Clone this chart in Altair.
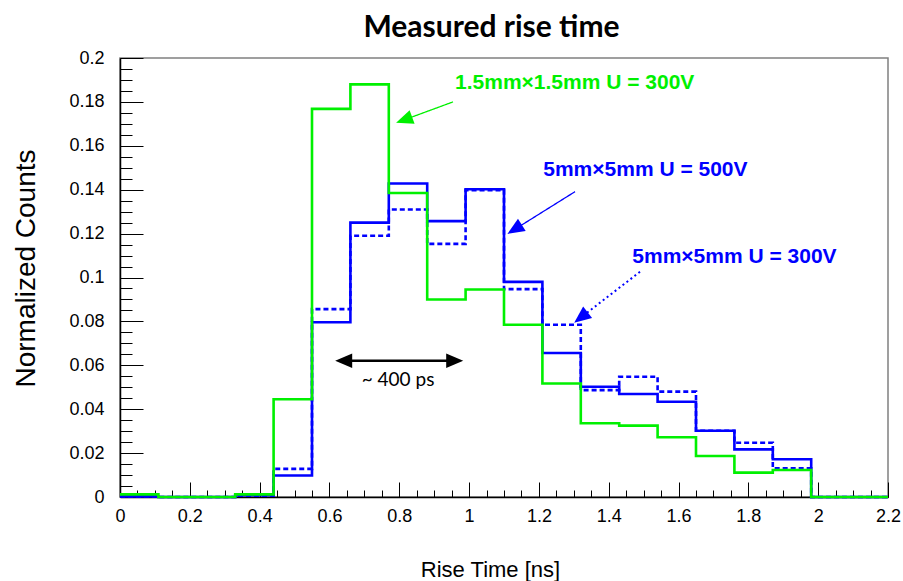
import altair as alt
import pandas as pd

# ---------------- data ----------------
bin_lo = [0.0, 0.11, 0.22, 0.33, 0.44, 0.55, 0.66, 0.77, 0.88, 0.99,
          1.10, 1.21, 1.32, 1.43, 1.54, 1.65, 1.76, 1.87, 1.98, 2.09]
x_hi = 2.2

green_15mm_300V = [0.0012, 0.0, 0.0, 0.0012, 0.0445, 0.1768, 0.1880, 0.1385, 0.0900, 0.0945,
                   0.0785, 0.0517, 0.0336, 0.0325, 0.0272, 0.0187, 0.0111, 0.0123, 0.0, 0.0]
blue_5mm_500V = [0.0003, 0.0, 0.0, 0.0008, 0.0098, 0.0796, 0.1250, 0.1428, 0.1257, 0.1402,
                 0.0980, 0.0656, 0.0502, 0.0469, 0.0434, 0.0302, 0.0217, 0.0172, 0.0, 0.0]
blue_5mm_300V = [0.0003, 0.0, 0.0, 0.0006, 0.0128, 0.0856, 0.1190, 0.1310, 0.1153, 0.1398,
                 0.0947, 0.0785, 0.0487, 0.0548, 0.0480, 0.0302, 0.0247, 0.0131, 0.0, 0.0]

x_major = [0, 0.2, 0.4, 0.6, 0.8, 1.0, 1.2, 1.4, 1.6, 1.8, 2.0, 2.2]
x_minor = [round(i * 0.05, 2) for i in range(45)]
y_major = [0, 0.02, 0.04, 0.06, 0.08, 0.1, 0.12, 0.14, 0.16, 0.18, 0.2]
y_minor = [round(i * 0.005, 3) for i in range(41)]

chart_title = "Measured rise time"
label_texts = ["1.5mm\u00d71.5mm U = 300V", "5mm\u00d75mm U = 500V", "5mm\u00d75mm U = 300V"]
label_x = [0.9597, 1.2124, 1.4676]
label_y = [0.1886, 0.1490, 0.1093]

# arrows: start (x, y) -> head centre (x, y), head direction angle
arrow_x0 = [0.9539, 1.3034, 1.4896]
arrow_y0 = [0.1800, 0.1391, 0.1026]
arrow_x1 = [0.8138, 1.1304, 1.3203]
arrow_y1 = [0.1718, 0.1219, 0.0818]
arrow_angle = [250, 238, 232]

span_x = [0.6408, 0.9588]
span_y = 0.0621
span_text = "~ 400 ps"
span_text_x = 0.7964
span_text_y = 0.0533

# ---------------- styling ----------------
W, H = 768, 439
GREEN = "#00f000"
BLUE = "#0000ff"
xs = alt.Scale(domain=[0, 2.2], nice=False, zero=False)
ys = alt.Scale(domain=[0, 0.2], nice=False, zero=False)
HEAD = "M0,-1L0.85,1L-0.85,1Z"


def step_df(vals):
    return pd.DataFrame({"x": bin_lo + [x_hi], "y": vals + [vals[-1]]})


def tick_axis(orient, values, size):
    # inward-pointing ticks (negative length through an expression)
    return alt.Axis(orient=orient, values=values, labels=False,
                    domain=False, grid=False, tickSize={"expr": str(-size)},
                    tickColor="black", tickWidth=1, title=None)


# main axes layer (dotted histogram)
dotted = alt.Chart(step_df(blue_5mm_300V)).mark_line(
    interpolate="step-after", color=BLUE, strokeWidth=2.6, strokeDash=[5, 3]
).encode(
    x=alt.X("x:Q", scale=xs, axis=alt.Axis(
        orient="bottom", values=x_major, format="~g", labelFlush=False,
        labelOverlap=False, ticks=False, domainColor="black", domainWidth=1.5,
        labelFont="Liberation Sans", labelFontSize=18, labelColor="black",
        labelPadding=10, grid=False,
        title="Rise Time [ns]", titleFont="Liberation Sans", titleFontSize=22,
        titleFontWeight="normal", titleColor="black", titleX=370, titleY=72,
        titleBaseline="middle", titleAlign="center")),
    y=alt.Y("y:Q", scale=ys, axis=alt.Axis(
        orient="left", values=y_major, format="~g", labelFlush=False,
        labelOverlap=False, ticks=False, domainColor="black", domainWidth=1.5,
        labelFont="Liberation Sans", labelFontSize=18, labelColor="black",
        labelPadding=16, grid=False,
        title="Normalized Counts", titleFont="Liberation Sans", titleFontSize=28,
        titleFontWeight="normal", titleColor="black", titleX=-94, titleY=210,
        titleAngle=270, titleBaseline="middle", titleAlign="center")),
)

solid = alt.Chart(step_df(blue_5mm_500V)).mark_line(
    interpolate="step-after", color=BLUE, strokeWidth=2.6
).encode(
    x=alt.X("x:Q", scale=xs, axis=tick_axis("bottom", x_major, 15)),
    y=alt.Y("y:Q", scale=ys, axis=tick_axis("left", y_major, 23)),
)

green = alt.Chart(step_df(green_15mm_300V)).mark_line(
    interpolate="step-after", color=GREEN, strokeWidth=2.6
).encode(
    x=alt.X("x:Q", scale=xs, axis=tick_axis("bottom", x_minor, 7)),
    y=alt.Y("y:Q", scale=ys, axis=tick_axis("left", y_minor, 12)),
)

layers = [dotted, solid, green]

arrow_colors = [GREEN, BLUE, BLUE]
arrow_dash = [[1, 0], [1, 0], [2, 3]]
arrow_width = [1.3, 1.3, 2.0]
for i in range(3):
    seg = pd.DataFrame({"x": [arrow_x0[i]], "y": [arrow_y0[i]],
                        "x2": [arrow_x1[i]], "y2": [arrow_y1[i]]})
    layers.append(alt.Chart(seg).mark_rule(
        color=arrow_colors[i], strokeWidth=arrow_width[i], strokeDash=arrow_dash[i]
    ).encode(x=alt.X("x:Q", scale=xs, axis=None), x2="x2:Q",
             y=alt.Y("y:Q", scale=ys, axis=None), y2="y2:Q"))
    head = pd.DataFrame({"x": [arrow_x1[i]], "y": [arrow_y1[i]]})
    layers.append(alt.Chart(head).mark_point(
        shape=HEAD, filled=True, size=290, opacity=1, color=arrow_colors[i],
        angle=arrow_angle[i]
    ).encode(x=alt.X("x:Q", scale=xs, axis=None),
             y=alt.Y("y:Q", scale=ys, axis=None)))
    lab = pd.DataFrame({"x": [label_x[i]], "y": [label_y[i]], "t": [label_texts[i]]})
    layers.append(alt.Chart(lab).mark_text(
        align="left", baseline="middle", font="Liberation Sans", fontWeight="bold",
        fontSize=21, color=arrow_colors[i]
    ).encode(x=alt.X("x:Q", scale=xs, axis=None),
             y=alt.Y("y:Q", scale=ys, axis=None), text="t:N"))

# double arrow (~400 ps)
span_line = pd.DataFrame({"x": [span_x[0]], "x2": [span_x[1]], "y": [span_y]})
layers.append(alt.Chart(span_line).mark_rule(color="black", strokeWidth=2.5).encode(
    x=alt.X("x:Q", scale=xs, axis=None), x2="x2:Q",
    y=alt.Y("y:Q", scale=ys, axis=None)))
for j, ang in enumerate([270, 90]):
    hd = pd.DataFrame({"x": [span_x[j]], "y": [span_y]})
    layers.append(alt.Chart(hd).mark_point(
        shape=HEAD, filled=True, size=290, opacity=1, color="black", angle=ang
    ).encode(x=alt.X("x:Q", scale=xs, axis=None),
             y=alt.Y("y:Q", scale=ys, axis=None)))

# "~ 400 ps" text; its layer also carries the chart heading as a top-axis title
st = pd.DataFrame({"x": [span_text_x], "y": [span_text_y], "t": [span_text]})
layers.append(alt.Chart(st).mark_text(
    align="center", baseline="middle", font="Lato", fontSize=19, color="black"
).encode(
    x=alt.X("x:Q", scale=xs, axis=alt.Axis(
        orient="top", labels=False, ticks=False, domain=False, grid=False,
        title=chart_title, titleFont="Lato", titleFontSize=30,
        titleFontWeight="bold", titleColor="black", titleX=371, titleY=-22,
        titleAlign="center", titleBaseline="alphabetic")),
    y=alt.Y("y:Q", scale=ys, axis=None), text="t:N"))

chart = alt.layer(*layers).resolve_axis(x="independent", y="independent").properties(
    width=W, height=H,
    autosize=alt.AutoSizeParams(type="none"),
    padding={"left": 120, "top": 58, "right": 15, "bottom": 84},
    background="white",
).configure_view(stroke="#808080", strokeWidth=1.5)

chart.save("out.html", embed_options={"renderer": "svg", "actions": False})
